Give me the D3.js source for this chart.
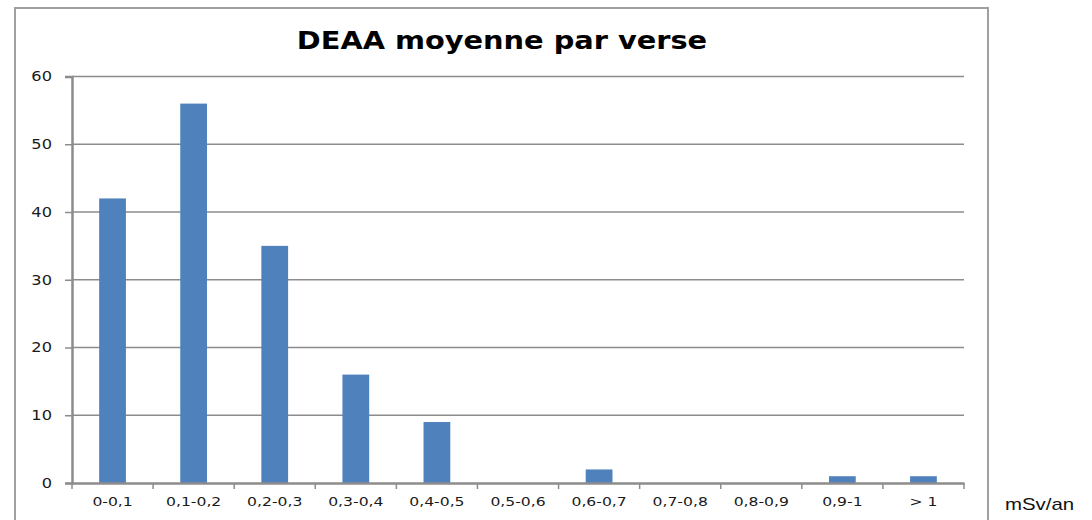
<!DOCTYPE html>
<html><head><meta charset="utf-8">
<script src="https://cdn.jsdelivr.net/npm/d3@7"></script>
<style>body{margin:0;background:#fff}svg{display:block}</style>
</head><body>
<svg id="c" width="1092" height="520"></svg>
<script>
const categories = ["0-0,1","0,1-0,2","0,2-0,3","0,3-0,4","0,4-0,5","0,5-0,6","0,6-0,7","0,7-0,8","0,8-0,9","0,9-1","> 1"];
const values = [42,56,35,16,9,0,2,0,0,1,1];
const yTicks = [0,10,20,30,40,50,60];
const title = "DEAA moyenne par verse";
const unitLabel = "mSv/an";

const svg = d3.select("#c");
const stretch = 1.2;
function widen(sel){ sel.each(function(){ const l=this.getComputedTextLength(); d3.select(this).attr("textLength", l*stretch).attr("lengthAdjust","spacingAndGlyphs"); }); }

// chart border
svg.append("rect").attr("x",15).attr("y",8).attr("width",973).attr("height",530)
  .attr("fill","#fff").attr("stroke","#a0a0a0").attr("stroke-width",2);

const L=72, R=964, T=76.5, B=483;
const x = d3.scaleBand().domain(categories).range([L,R]).paddingInner(0.67).paddingOuter(0.335);
const xb = d3.scaleBand().domain(categories).range([L,R]);
const y = d3.scaleLinear().domain([0,60]).range([B,T]);

// gridlines
svg.append("g").selectAll("line").data(yTicks.filter(d=>d>0)).join("line")
  .attr("x1",L).attr("x2",R).attr("y1",d=>y(d)).attr("y2",d=>y(d))
  .attr("stroke","#8c8c8c").attr("stroke-width",1.3);

// bars
svg.append("g").selectAll("rect").data(values).join("rect")
  .attr("x",(d,i)=>x(categories[i])).attr("width",x.bandwidth())
  .attr("y",d=>y(d)).attr("height",d=>B-y(d)).attr("fill","#4F81BD");

// y axis
const ya = svg.append("g").attr("transform",`translate(${L},0)`)
  .call(d3.axisLeft(y).tickValues(yTicks).tickSize(7).tickPadding(13).tickFormat(d3.format("d")));
ya.select(".domain").attr("stroke","#8c8c8c").attr("stroke-width",2.5);
ya.selectAll(".tick line").attr("stroke","#8c8c8c").attr("stroke-width",1.5);
ya.selectAll("text").attr("font-family","DejaVu Sans").attr("font-size",13.5).attr("fill","#1a1a1a");
widen(ya.selectAll("text"));

// x axis
const xa = svg.append("g").attr("transform",`translate(0,${B})`)
  .call(d3.axisBottom(xb).tickSize(0).tickPadding(14));
xa.select(".domain").attr("stroke","#8c8c8c").attr("stroke-width",2.5);
xa.selectAll("text").attr("font-family","DejaVu Sans").attr("font-size",13).attr("fill","#1a1a1a");
widen(xa.selectAll("text"));
// boundary tick marks
xa.append("g").selectAll("line").data(d3.range(categories.length+1)).join("line")
  .attr("x1",i=>L+i*xb.step()).attr("x2",i=>L+i*xb.step()).attr("y1",0).attr("y2",6)
  .attr("stroke","#8c8c8c").attr("stroke-width",1.5);

// title
const tt = svg.append("text").attr("x",502).attr("y",49).attr("text-anchor","middle")
  .attr("font-family","DejaVu Sans").attr("font-weight","bold").attr("font-size",24).attr("fill","#000").text(title);
widen(tt);

// unit label (outside chart box)
const ul = svg.append("text").attr("x",1005).attr("y",510)
  .attr("font-family","Liberation Sans").attr("font-size",17).attr("fill","#111").text(unitLabel);
widen(ul);
</script>
</body></html>
